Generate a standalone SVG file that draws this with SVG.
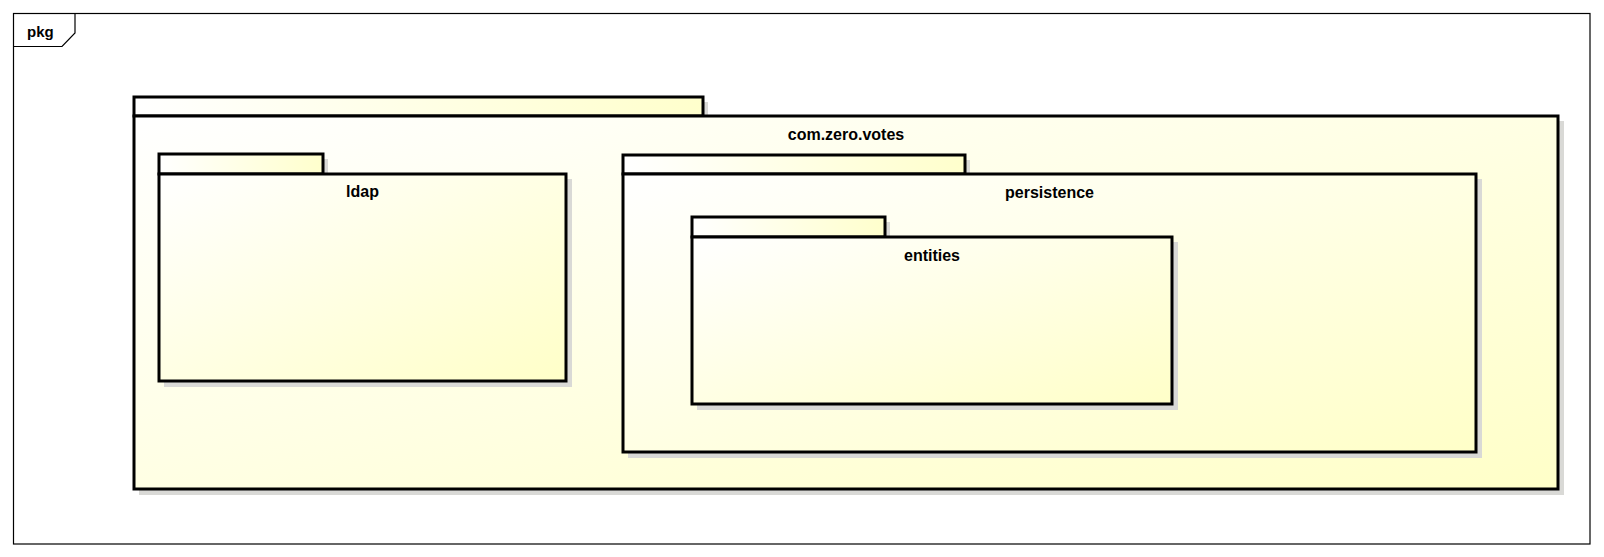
<svg xmlns="http://www.w3.org/2000/svg" width="1604" height="557" viewBox="0 0 1604 557">
<defs>
<linearGradient id="fillG" x1="0" y1="0" x2="1" y2="1">
<stop offset="0" stop-color="#ffffff"/>
<stop offset="1" stop-color="#ffffc8"/>
</linearGradient>
<linearGradient id="tabG" x1="0" y1="0" x2="1" y2="0">
<stop offset="0" stop-color="#ffffff"/>
<stop offset="1" stop-color="#ffffcc"/>
</linearGradient>
</defs>
<style>
.frame{fill:none;stroke:#000;stroke-width:1.2}
.body{fill:url(#fillG);stroke:#000;stroke-width:3}
.tab{fill:url(#tabG);stroke:#000;stroke-width:3}
.shadow{fill:#d9d9d6}
.lbl{font-family:"Liberation Sans",Arial,sans-serif;font-weight:bold;font-size:16px;fill:#000;text-anchor:middle}
.pkg{font-family:"Liberation Sans",Arial,sans-serif;font-weight:bold;font-size:15px;fill:#000}
</style>
<rect x="0" y="0" width="1604" height="557" fill="#ffffff"/>
<g id="frame">
<rect class="frame" x="13.5" y="13.5" width="1576.5" height="530.5"/>
<path class="frame" d="M13.5,46.5 H62 L75,33 V13.5"/>
<text class="pkg" x="27" y="37">pkg</text>
</g>
<g id="com.zero.votes">
<rect class="shadow" x="139" y="102" width="569" height="19"/>
<rect class="shadow" x="139" y="121" width="1425" height="374"/>
<rect class="tab" x="134" y="97" width="569" height="19"/>
<rect class="body" x="134" y="116" width="1424" height="373"/>
<text class="lbl" x="846" y="140">com.zero.votes</text>
</g>
<g id="ldap">
<rect class="shadow" x="164" y="159" width="164" height="20"/>
<rect class="shadow" x="164" y="179" width="408" height="208"/>
<rect class="tab" x="159" y="154" width="164" height="20"/>
<rect class="body" x="159" y="174" width="407" height="207"/>
<text class="lbl" x="362.5" y="197">ldap</text>
</g>
<g id="persistence">
<rect class="shadow" x="628" y="160" width="342" height="19"/>
<rect class="shadow" x="628" y="179" width="854" height="279"/>
<rect class="tab" x="623" y="155" width="342" height="19"/>
<rect class="body" x="623" y="174" width="853" height="278"/>
<text class="lbl" x="1049.5" y="198">persistence</text>
</g>
<g id="entities">
<rect class="shadow" x="697" y="222" width="193" height="20"/>
<rect class="shadow" x="697" y="242" width="481" height="168"/>
<rect class="tab" x="692" y="217" width="193" height="20"/>
<rect class="body" x="692" y="237" width="480" height="167"/>
<text class="lbl" x="932" y="261">entities</text>
</g>
<g id="connectors"></g>
</svg>
